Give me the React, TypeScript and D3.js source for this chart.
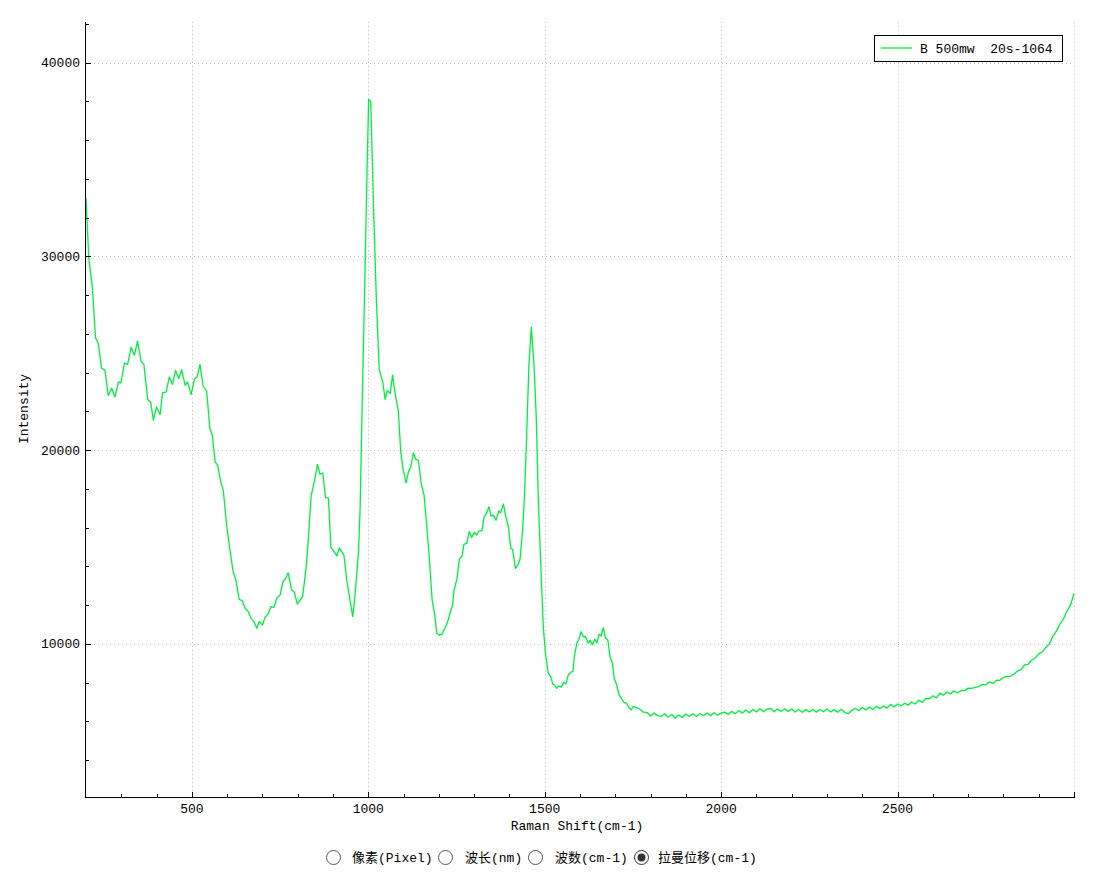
import React from "react";
import * as d3 from "d3";

const shifts: number[] = [
  200, 208, 218, 227, 235, 244, 254, 263, 273, 282, 292, 299, 309, 318, 328, 337, 346, 356, 364, 375,
  383, 391, 400, 410, 417, 427, 436, 445, 454, 463, 471, 481, 488, 498, 507, 515, 523, 532, 542, 551,
  558, 566, 573, 582, 589, 599, 608, 617, 625, 634, 643, 651, 660, 668, 676, 684, 691, 700, 707, 717,
  724, 733, 740, 750, 758, 766, 773, 783, 790, 799, 814, 824, 830, 838, 847, 856, 863, 871, 879, 887,
  894, 903, 911, 918, 931, 939, 948, 956, 962, 972, 977, 981, 990, 996, 1001, 1007, 1015, 1023, 1031, 1041,
  1048, 1054, 1062, 1069, 1076, 1085, 1092, 1099, 1107, 1114, 1120, 1128, 1135, 1142, 1150, 1158, 1166, 1173, 1181, 1189,
  1194, 1201, 1209, 1217, 1225, 1232, 1239, 1243, 1251, 1258, 1266, 1271, 1279, 1286, 1293, 1301, 1307, 1314, 1322, 1328,
  1336, 1342, 1348, 1354, 1362, 1370, 1375, 1383, 1390, 1397, 1404, 1409, 1417, 1424, 1430, 1438, 1443, 1449, 1455, 1462,
  1470, 1476, 1482, 1489, 1496, 1502, 1510, 1517, 1523, 1528, 1534, 1540, 1547, 1553, 1560, 1567, 1574, 1580, 1584, 1591,
  1597, 1603, 1610, 1616, 1623, 1629, 1635, 1642, 1648, 1654, 1660, 1666, 1672, 1679, 1685, 1692, 1697, 1704, 1711, 1717,
  1725, 1732, 1738, 1745, 1751, 1759, 1770, 1780, 1790, 1800, 1810, 1820, 1830, 1840, 1850, 1860, 1870, 1880, 1890, 1900,
  1910, 1920, 1930, 1940, 1950, 1960, 1970, 1980, 1990, 2000, 2010, 2020, 2030, 2040, 2050, 2060, 2070, 2080, 2090, 2100,
  2110, 2120, 2130, 2140, 2150, 2160, 2170, 2180, 2190, 2200, 2210, 2220, 2230, 2240, 2250, 2260, 2270, 2280, 2290, 2300,
  2310, 2320, 2330, 2340, 2350, 2360, 2370, 2380, 2390, 2400, 2410, 2420, 2430, 2440, 2450, 2460, 2470, 2480, 2490, 2500,
  2510, 2520, 2530, 2540, 2550, 2560, 2570, 2580, 2590, 2600, 2610, 2620, 2630, 2640, 2650, 2660, 2670, 2680, 2690, 2700,
  2710, 2720, 2730, 2740, 2750, 2760, 2770, 2780, 2790, 2800, 2810, 2820, 2830, 2840, 2850, 2860, 2870, 2880, 2890, 2900,
  2910, 2920, 2930, 2940, 2950, 2960, 2970, 2980, 2990, 3000,
];

const intensities: number[] = [
  33000, 29900, 28400, 25800, 25500, 24240, 24120, 22830, 23200, 22750, 23520, 23470, 24500, 24430, 25320, 24900, 25630, 24600, 24430, 22610,
  22490, 21550, 22230, 21840, 22970, 23000, 23780, 23400, 24120, 23700, 24160, 23350, 23520, 22870, 23660, 23780, 24420, 23300, 23040, 21120,
  20770, 19400, 19230, 18360, 17940, 16050, 14840, 13730, 13290, 12300, 12230, 11840, 11660, 11320, 11150, 10810, 11150, 10980, 11350, 11580,
  11920, 11890, 12350, 12520, 13210, 13390, 13670, 12780, 12690, 12060, 12440, 13980, 15360, 17630, 18360, 19260, 18760, 18830, 17560, 17520,
  14980, 14760, 14540, 14960, 14570, 13300, 12270, 11410, 12440, 14670, 17080, 20860, 28600, 34000, 38100, 38000, 32500, 27700, 24160, 23520,
  22610, 23090, 22920, 23870, 22920, 22060, 19910, 18970, 18310, 18880, 19110, 19860, 19520, 19480, 18280, 17680, 16050, 14420, 12270, 11410,
  10550, 10460, 10500, 10810, 11150, 11610, 12010, 12780, 13330, 14360, 14540, 15140, 15190, 15790, 15500, 15760, 15620, 15840, 15840, 16530,
  16790, 17080, 16600, 16650, 16390, 16870, 16770, 17220, 16560, 16050, 14930, 14880, 13900, 14070, 14360, 16050, 17770, 20860, 24290, 26350,
  24290, 21720, 17420, 13980, 10890, 9520, 8490, 8310, 7920, 7880, 7710, 7830, 7770, 8000, 7940, 8400, 8540, 8570, 9340, 10040,
  10240, 10630, 10370, 10370, 10040, 10200, 9950, 10240, 10040, 10500, 10410, 10840, 10320, 10200, 9340, 9000, 8230, 7880, 7370, 7200,
  6970, 6940, 6730, 6600, 6770, 6730, 6630, 6480, 6460, 6280, 6430, 6300, 6260, 6400, 6220, 6360, 6180, 6330, 6200, 6380,
  6250, 6400, 6260, 6410, 6290, 6430, 6300, 6450, 6320, 6430, 6480, 6360, 6520, 6400, 6560, 6430, 6590, 6450, 6620, 6490,
  6660, 6500, 6640, 6680, 6500, 6640, 6510, 6660, 6520, 6640, 6490, 6620, 6470, 6610, 6490, 6630, 6480, 6620, 6500, 6640,
  6490, 6610, 6480, 6630, 6470, 6400, 6560, 6680, 6550, 6720, 6590, 6740, 6620, 6780, 6660, 6800, 6690, 6880, 6750, 6900,
  6800, 6940, 6840, 7000, 6900, 7100, 6980, 7190, 7160, 7320, 7220, 7460, 7350, 7520, 7420, 7580, 7470, 7600, 7590, 7720,
  7710, 7760, 7800, 7910, 7890, 8040, 7950, 8130, 8120, 8270, 8330, 8340, 8450, 8600, 8670, 8920, 8950, 9160, 9270, 9490,
  9590, 9820, 9990, 10390, 10660, 11020, 11280, 11700, 12000, 12600,
];

const xMajorTicks: number[] = [500, 1000, 1500, 2000, 2500, 3000];
const xMajorLabels: string[] = ["500", "1000", "1500", "2000", "2500", ""];
const xMinorTicks: number[] = [
  300, 400, 600, 700, 800, 900, 1100, 1200, 1300, 1400, 1600, 1700, 1800, 1900,
  2100, 2200, 2300, 2400, 2600, 2700, 2800, 2900,
];
const yMajorTicks: number[] = [10000, 20000, 30000, 40000];
const yMajorLabels: string[] = ["10000", "20000", "30000", "40000"];
const yMinorTicks: number[] = [
  4000, 6000, 8000, 12000, 14000, 16000, 18000, 22000, 24000, 26000, 28000,
  32000, 34000, 36000, 38000, 42000,
];

const seriesName = "B 500mw  20s-1064";
const xTitle = "Raman Shift(cm-1)";
const yTitle = "Intensity";
const radioLabels: string[] = ["像素(Pixel)", "波长(nm)", "波数(cm-1)", "拉曼位移(cm-1)"];
const radioChecked = 3;

const W = 1095;
const H = 873;
const left = 86;
const right = 1074;
const top = 22;
const bottom = 797;
const FONT = "'Liberation Mono', 'Noto Sans CJK SC', monospace";
const LINE_COLOR = "#00f040";

export default function App() {
  const x = d3.scaleLinear().domain([200, 3000]).range([left, right]);
  const y = d3.scaleLinear().domain([2100, 42100]).range([bottom, top]);
  const pts: [number, number][] = shifts.map((s, i) => [s, intensities[i]]);
  const line = d3
    .line<[number, number]>()
    .x((d) => x(d[0]))
    .y((d) => y(d[1]));

  const radioX = [333.5, 445.5, 535.5, 641.5];
  const radioTextX = [352, 465, 555, 658];

  return (
    <svg
      width={W}
      height={H}
      style={{ position: "absolute", left: 0, top: 0, background: "#fff" }}
      fontFamily={FONT}
      fontSize={13}
    >
      <rect x={0} y={0} width={W} height={H} fill="#fff" />
      {xMajorTicks.map((t) => (
        <line
          key={"gx" + t}
          x1={Math.round(x(t)) + 0.5}
          x2={Math.round(x(t)) + 0.5}
          y1={top}
          y2={bottom}
          stroke="#c4c4c4"
          strokeDasharray="1,3"
        />
      ))}
      {yMajorTicks.map((t) => (
        <line
          key={"gy" + t}
          x1={left}
          x2={right}
          y1={Math.round(y(t)) + 0.5}
          y2={Math.round(y(t)) + 0.5}
          stroke="#c4c4c4"
          strokeDasharray="1,3"
        />
      ))}
      <path d={line(pts) || ""} fill="none" stroke={LINE_COLOR} strokeWidth={1.3} strokeLinejoin="round" />
      <line x1={left - 0.5} x2={left - 0.5} y1={top} y2={bottom + 1} stroke="#000" strokeWidth={1} />
      <line x1={left - 1} x2={right + 1} y1={bottom + 0.5} y2={bottom + 0.5} stroke="#000" strokeWidth={1} />
      {xMajorTicks.map((t) => (
        <line key={"tx" + t} x1={Math.round(x(t)) + 0.5} x2={Math.round(x(t)) + 0.5} y1={bottom} y2={bottom - 5} stroke="#000" />
      ))}
      {xMinorTicks.map((t) => (
        <line key={"mx" + t} x1={Math.round(x(t)) + 0.5} x2={Math.round(x(t)) + 0.5} y1={bottom} y2={bottom - 3} stroke="#000" />
      ))}
      {yMajorTicks.map((t) => (
        <line key={"ty" + t} x1={left} x2={left + 5} y1={Math.round(y(t)) + 0.5} y2={Math.round(y(t)) + 0.5} stroke="#000" />
      ))}
      {yMinorTicks.map((t) => (
        <line key={"my" + t} x1={left} x2={left + 3} y1={Math.round(y(t)) + 0.5} y2={Math.round(y(t)) + 0.5} stroke="#000" />
      ))}
      {xMajorTicks.map((t, i) => (
        <text key={"lx" + t} x={x(t)} y={813} textAnchor="middle" fill="#000">
          {xMajorLabels[i]}
        </text>
      ))}
      {yMajorTicks.map((t, i) => (
        <text key={"ly" + t} x={80} y={y(t) + 4.5} textAnchor="end" fill="#000">
          {yMajorLabels[i]}
        </text>
      ))}
      <text x={577} y={830} textAnchor="middle" fill="#000">
        {xTitle}
      </text>
      <text transform="translate(28,409) rotate(-90)" textAnchor="middle" fill="#000">
        {yTitle}
      </text>
      <rect x={874.5} y={35.5} width={188} height={26} fill="#fff" stroke="#000" strokeWidth={1} />
      <line x1={881} x2={912} y1={48} y2={48} stroke={LINE_COLOR} strokeWidth={1.3} />
      <text x={920} y={52.5} fill="#000" style={{ whiteSpace: "pre" }}>
        {seriesName}
      </text>
      {radioLabels.map((lab, i) => (
        <g key={"r" + i}>
          <circle cx={radioX[i]} cy={857.5} r={7} fill="#fff" stroke={i === radioChecked ? "#333" : "#555"} strokeWidth={1} />
          {i === radioChecked && <circle cx={radioX[i]} cy={857.5} r={4} fill="#333" />}
          <text x={radioTextX[i]} y={862} fill="#000">
            {lab}
          </text>
        </g>
      ))}
    </svg>
  );
}
